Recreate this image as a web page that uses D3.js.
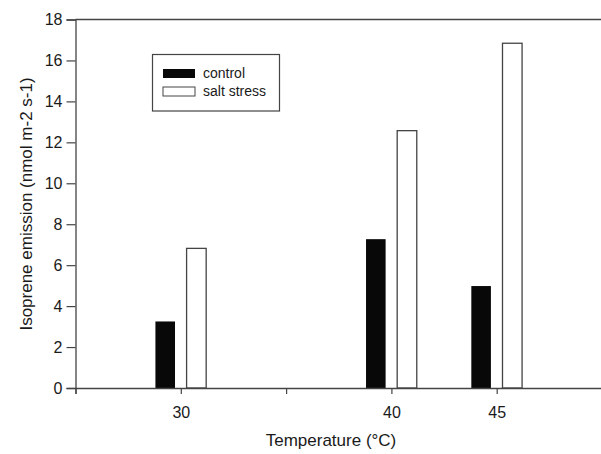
<!DOCTYPE html>
<html lang="en">
<head>
<meta charset="UTF-8">
<title>Isoprene emission</title>
<script src="https://d3js.org/d3.v7.min.js"></script>
<style>
  body { margin: 0; background: #fff; }
  svg { display: block; font-family: "Liberation Sans", Arial, sans-serif; }
</style>
</head>
<body>
<svg width="601" height="454"></svg>
<script>
// data
const temps = [30, 40, 45];
const control = [3.25, 7.27, 4.98];
const saltStress = [6.82, 12.57, 16.84];
const seriesNames = ["control", "salt stress"];
const xTicks = [25, 30, 35, 40, 45, 50];
const xLabels = [30, 40, 45];
const yTicks = [0, 2, 4, 6, 8, 10, 12, 14, 16, 18];

const svg = d3.select("svg");
const ink = "#1a1a1a";
const lineCol = "#444";

let x = d3.scaleLinear().domain([25, 50]).range([75.5, 602]);
let y = d3.scaleLinear().domain([0, 18]).range([388, 19.5]);

const barW = 0.93;   // in degrees
const offset = 0.74;

// top frame line
svg.append("line")
    .attr("x1", x(25)).attr("x2", 601)
    .attr("y1", y(18)).attr("y2", y(18))
    .attr("stroke", lineCol).attr("stroke-width", 1.3);

// bars
let rows = temps.map((t, i) => ({ t: t, c: control[i], s: saltStress[i] }));

svg.selectAll("rect.ctrl").data(rows).enter().append("rect")
    .attr("class", "ctrl")
    .attr("x", d => x(d.t - offset - barW / 2))
    .attr("width", d => x(d.t - offset + barW / 2) - x(d.t - offset - barW / 2))
    .attr("y", d => y(d.c))
    .attr("height", d => y(0) - y(d.c))
    .attr("fill", "#080808");

svg.selectAll("rect.salt").data(rows).enter().append("rect")
    .attr("class", "salt")
    .attr("x", d => x(d.t + offset - barW / 2))
    .attr("width", d => x(d.t + offset + barW / 2) - x(d.t + offset - barW / 2))
    .attr("y", d => y(d.s))
    .attr("height", d => y(0) - y(d.s))
    .attr("fill", "#fff")
    .attr("stroke", lineCol).attr("stroke-width", 1.3);

// y axis
let yAxis = svg.append("g")
    .attr("transform", `translate(${x(25)},0)`)
    .call(d3.axisLeft(y).tickValues(yTicks).tickSize(9).tickPadding(4));
yAxis.select(".domain").attr("stroke", lineCol).attr("stroke-width", 1.3);
yAxis.selectAll(".tick line").attr("stroke", lineCol).attr("stroke-width", 1.2);
yAxis.selectAll("text").attr("font-size", 16).attr("fill", ink)
    .attr("font-family", "Liberation Sans, Arial, sans-serif");

// x axis
let xAxis = svg.append("g")
    .attr("transform", `translate(0,${y(0)})`)
    .call(d3.axisBottom(x).tickValues(xTicks).tickSize(6).tickPadding(13)
        .tickFormat(d => xLabels.includes(d) ? d : ""));
xAxis.select(".domain").attr("stroke", lineCol).attr("stroke-width", 1.3);
xAxis.selectAll(".tick line").attr("stroke", lineCol).attr("stroke-width", 1.2);
xAxis.selectAll("text").attr("font-size", 16).attr("fill", ink)
    .attr("font-family", "Liberation Sans, Arial, sans-serif");

// axis titles
svg.append("text")
    .attr("transform", "translate(32,204) rotate(-90)")
    .attr("text-anchor", "middle")
    .attr("font-size", 17).attr("fill", ink)
    .text("Isoprene emission (nmol m-2 s-1)");

svg.append("text")
    .attr("x", 331).attr("y", 446)
    .attr("text-anchor", "middle")
    .attr("font-size", 17).attr("fill", ink)
    .text("Temperature (°C)");

// legend
let legend = svg.append("g");
legend.append("rect")
    .attr("x", 152.5).attr("y", 54.5).attr("width", 127).attr("height", 56.5)
    .attr("fill", "#fff").attr("stroke", lineCol).attr("stroke-width", 1.2);

legend.selectAll("rect.key").data(seriesNames).enter().append("rect")
    .attr("class", "key")
    .attr("x", 163).attr("y", (d, i) => 69 + i * 18)
    .attr("width", 32).attr("height", 9)
    .attr("fill", (d, i) => i == 0 ? "#080808" : "#fff")
    .attr("stroke", (d, i) => i == 0 ? "none" : lineCol).attr("stroke-width", 1);

legend.selectAll("text").data(seriesNames).enter().append("text")
    .attr("x", 203).attr("y", (d, i) => 78 + i * 18)
    .attr("font-size", 14).attr("fill", ink)
    .text(d => d);
</script>
</body>
</html>
